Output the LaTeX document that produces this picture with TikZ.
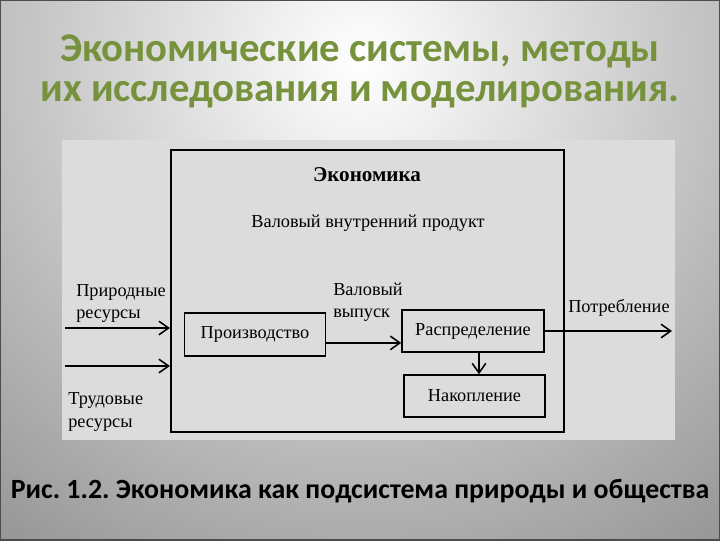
\documentclass[tikz,border=0pt]{standalone}
\usepackage{fontspec}
\setmainfont{Liberation Serif}
\newfontfamily\slidefont{Carlito}
\usetikzlibrary{arrows.meta,positioning}
\definecolor{titlegreen}{HTML}{76923C}
\definecolor{scanpaper}{HTML}{DCDCDC}
\definecolor{slideedge}{HTML}{969696}

\begin{document}
\begin{tikzpicture}[
    x=0.025cm,y=-0.025cm,
    box/.style={draw=black,line width=1.1pt,inner sep=0pt},
    lbl/.style={font=\fontsize{13}{16}\selectfont,inner sep=0pt,align=left},
    arr/.style={-{Straight Barb[length=2.4mm,width=3.4mm,line width=1.1pt]},line width=1.1pt,draw=black},
    headline/.style={font=\slidefont\bfseries\fontsize{29}{32}\selectfont,text=titlegreen},
    caption/.style={font=\slidefont\bfseries\fontsize{19.8}{22}\selectfont,text=black}
]
\useasboundingbox (0,0) rectangle (720,540);
% slide background
\begin{scope}
  \clip (0,0) rectangle (720,540);
  \shade[inner color=white,outer color=slideedge] (360,60) circle (15cm);
\end{scope}
\draw[black!70,line width=0.8pt] (0,0) rectangle (720,540);

% title and caption
\node[headline] (head1) at (360,51) {Экономические системы, методы};
\node[headline] (head2) at (360,95) {их исследования и моделирования.};
\node[caption] (cap) at (360,491) {Рис.\ 1.2.\ Экономика как подсистема природы и общества};

% scanned figure
\fill[scanpaper] (62,140) rectangle (675,440);

\node[box,line width=1.4pt,minimum width=9.83cm,minimum height=7.05cm] (econ) at (367.5,291) {};
\node[lbl,font=\bfseries\fontsize{15}{16}\selectfont] (econname) at (367,175) {Экономика};
\node[lbl] (gdp) at (368,223) {Валовый внутренний продукт};

\node[box,minimum width=3.53cm,minimum height=1.08cm] (prod) at (255,334.5) {};
\node[lbl] (prodtxt) at (prod) {Производство};
\node[box,minimum width=3.55cm,minimum height=1.05cm] (distr) at (473,331) {};
\node[lbl] (distrtxt) at (distr) {Распределение};
\node[box,minimum width=3.53cm,minimum height=1.05cm] (accum) at (474.5,396) {};
\node[lbl] (accumtxt) at (accum) {Накопление};

\node[lbl,anchor=west] (natres) at (76,303.5) {Природные\\ресурсы};
\node[lbl,anchor=west] (labres) at (68,412) {Трудовые\\ресурсы};
\node[lbl,anchor=west] (gross) at (333,302) {Валовый\\выпуск};
\node[lbl,anchor=west] (cons) at (568,308) {Потребление};

\coordinate (in1) at (65,328);
\coordinate (in2) at (65,366);
\coordinate (out) at (672,331);

\draw[arr] (in1) -- (in1 -| econ.west);
\draw[arr] (in2) -- (in2 -| econ.west);
\draw[arr] ([yshift=-0.21cm]prod.east) -- ([yshift=-0.21cm]prod.east -| distr.west);
\draw[arr] ([xshift=0.15cm]distr.south) -- ([xshift=0.15cm]distr.south |- accum.north);
\draw[arr] (distr.east) -- (out);
\end{tikzpicture}
\end{document}
